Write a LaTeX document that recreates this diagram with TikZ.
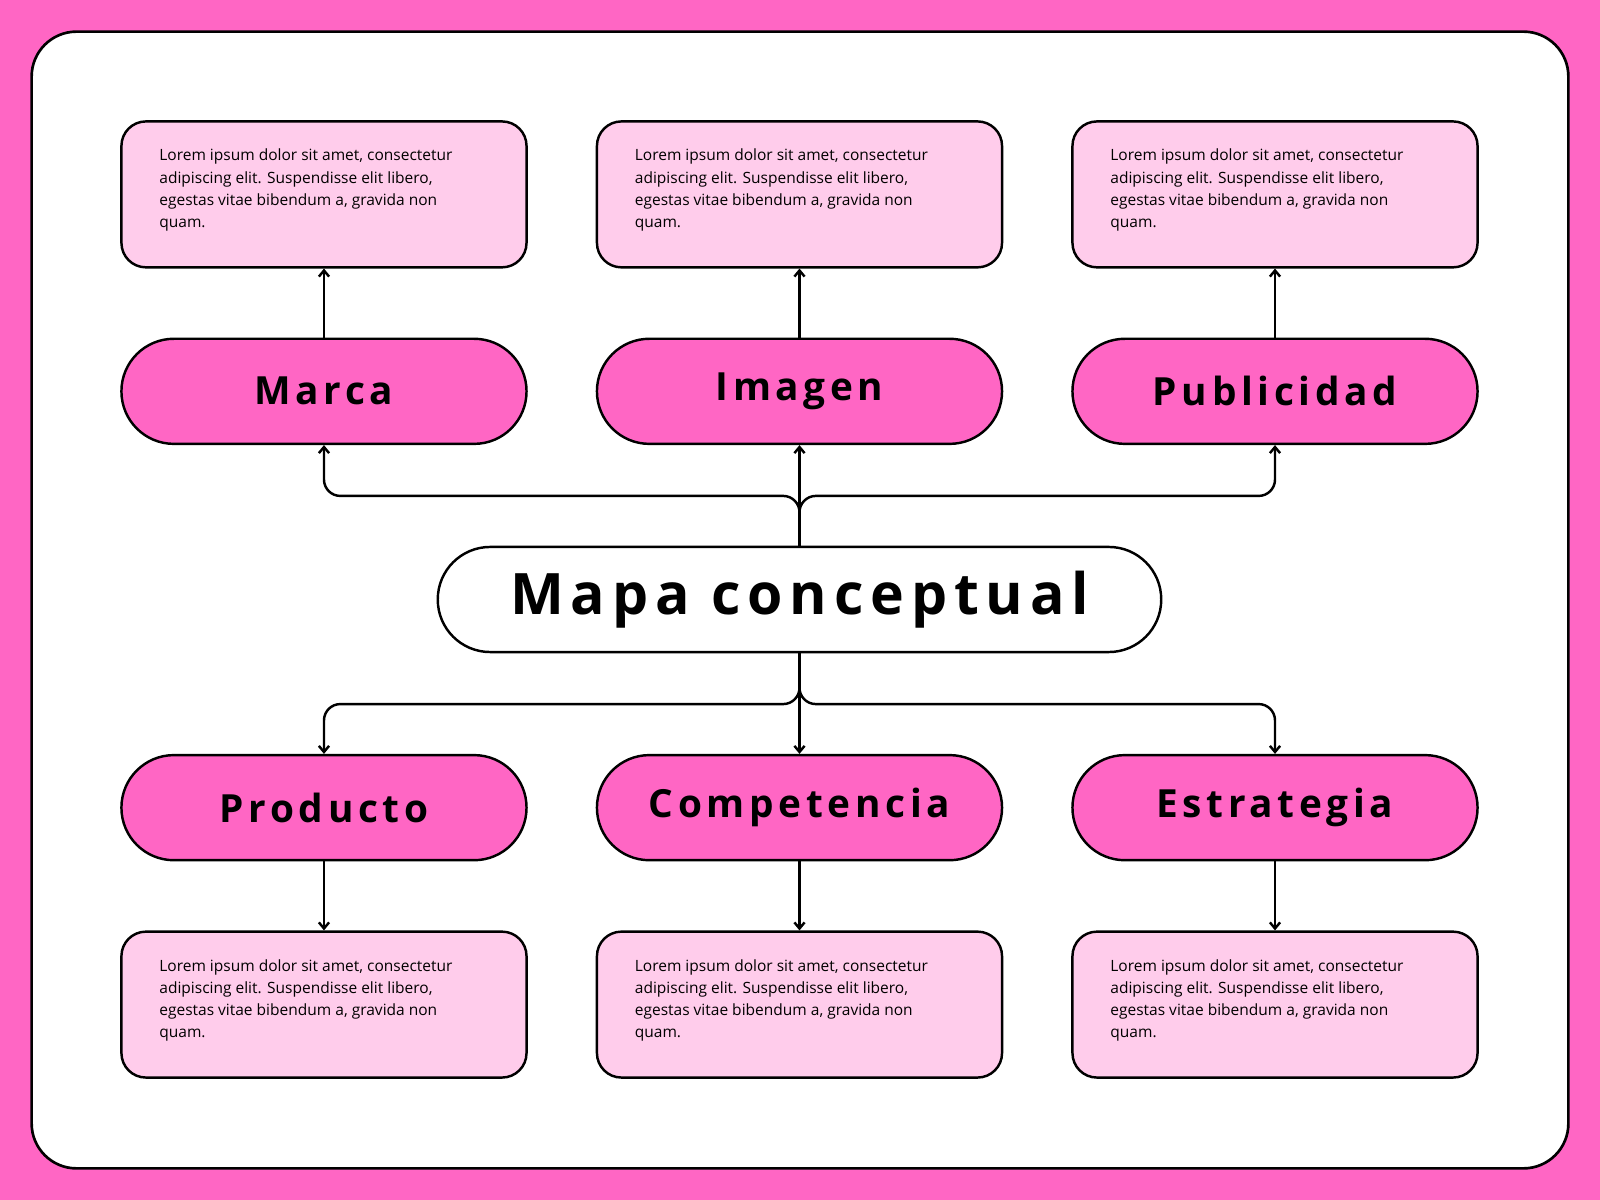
\documentclass[tikz,border=0pt]{standalone}
\usepackage{fontspec}
\setmainfont{Open Sans}
\newfontfamily\titlefont[LetterSpace=12]{Open Sans Bold}
\usetikzlibrary{arrows.meta}
\definecolor{hotpink}{HTML}{FF66C4}
\definecolor{lightpink}{HTML}{FFCCEB}
\begin{document}
\begin{tikzpicture}[x=0.5pt,y=-0.5pt,
  box/.style={draw=black,line width=1.2pt,fill=lightpink,rounded corners=12pt,minimum width=198.5pt,minimum height=71.5pt,inner sep=0pt},
  pill/.style={draw=black,line width=1.2pt,fill=hotpink,rounded corners=25.7pt,minimum width=198.5pt,minimum height=51.5pt,inner sep=0pt,font=\titlefont\fontsize{19}{22}\selectfont},
  txt/.style={font=\fontsize{7.6}{10.8}\selectfont,align=left,anchor=north west,inner sep=0pt},
  con/.style={line width=1.2pt,rounded corners=8pt,-{Straight Barb[length=3pt,width=5pt]}}]
\fill[hotpink] (0,0) rectangle (1568,1176);
\draw[line width=1.3pt,fill=white,rounded corners=22pt] (31,31) rectangle (1537,1145);
\foreach \n/\x in {a/317.5,b/783.5,c/1249.5}{
  \node[box] (t\n) at (\x,190.5) {};
  \node[txt] at ([xshift=19pt,yshift=-14pt]t\n.north west) {Lorem ipsum dolor sit amet, consectetur\\adipiscing elit. Suspendisse elit libero,\\egestas vitae bibendum a, gravida non\\quam.};
  \node[box] (b\n) at (\x,984.5) {};
  \node[txt] at ([xshift=19pt,yshift=-14pt]b\n.north west) {Lorem ipsum dolor sit amet, consectetur\\adipiscing elit. Suspendisse elit libero,\\egestas vitae bibendum a, gravida non\\quam.};
}
\node[pill] (pa) at (317.5,383.5) {Marca};
\node[pill] (pb) at (783.5,383.5) {Imagen};
\node[pill] (pc) at (1249.5,383.5) {Publicidad};
\node[pill] (qa) at (317.5,791.5) {Producto};
\node[pill] (qb) at (783.5,791.5) {Competencia};
\node[pill] (qc) at (1249.5,791.5) {Estrategia};
\node[pill,fill=white,minimum width=354.5pt,font=\titlefont\fontsize{28}{32}\selectfont] (m) at (783.5,587.5) {Mapa conceptual};
\foreach \n in {a,b,c}{
  \draw[con] (p\n.north) -- (t\n.south);
  \draw[con] (q\n.south) -- (b\n.north);
}
\draw[con] (m.north) -- (pb.south);
\draw[con] (m.north) -- (783.5,486) -- (pa.south |- 0,486) -- (pa.south);
\draw[con] (m.north) -- (783.5,486) -- (pc.south |- 0,486) -- (pc.south);
\draw[con] (m.south) -- (qb.north);
\draw[con] (m.south) -- (783.5,690) -- (qa.north |- 0,690) -- (qa.north);
\draw[con] (m.south) -- (783.5,690) -- (qc.north |- 0,690) -- (qc.north);
\end{tikzpicture}
\end{document}
